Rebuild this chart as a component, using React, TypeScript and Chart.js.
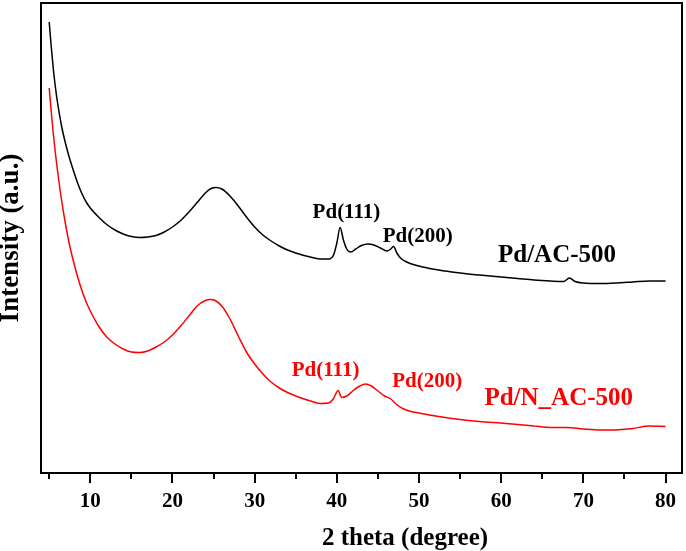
import React, { useEffect, useRef } from 'react';
import { Chart, registerables } from 'chart.js';

Chart.register(...registerables);

const FONT = '"Liberation Serif", "Times New Roman", Times, serif';

// Pd/AC-500 (black)
const twoThetaAC = [
  5, 5.25, 5.5, 5.75, 6.0, 6.5, 7.0, 7.5, 8.0, 8.5, 9.0, 9.5, 10, 11, 12, 13, 14, 15, 16, 17,
  18, 19, 20, 21, 22, 23, 24, 24.7, 25.3, 26, 27, 28, 29, 30, 31, 32, 33, 34, 35, 36, 37,
  38, 39, 39.6, 40.0, 40.4, 40.8, 41.2, 41.7, 42.3, 43, 43.8, 44.5, 45.3, 46.1, 46.5, 46.9, 47.3, 47.8, 48.5, 49.5,
  50.5, 52, 54, 56, 58, 60, 62, 64, 66, 67.6, 68.3, 69, 70, 72, 74, 76, 78, 80,
];
const intensityAC = [
  451, 426, 404, 386, 371, 347, 329, 314, 301, 289, 279, 271, 265, 256, 248.5, 243, 239, 236.5, 235.5, 236,
  237.5, 241, 246, 252.5, 261, 270.5, 280, 284.5, 285.5, 284, 277, 267, 256, 246, 238, 232, 227, 223, 220, 217.5, 215.5,
  214, 214, 218, 230, 245.5, 233, 224, 221, 224, 227.5, 229, 228, 225, 222, 223.5, 226.5, 220, 214.5, 211, 208,
  206, 203.5, 201, 199, 197.5, 196, 194.5, 193, 192, 191.5, 195, 191.5, 190, 189.5, 190, 191, 192, 192,
];

// Pd/N_AC-500 (red)
const twoThetaNAC = [
  5, 5.25, 5.5, 5.75, 6.0, 6.5, 7.0, 7.5, 8.0, 8.5, 9, 9.5, 10, 11, 12, 13, 14, 15, 16, 17, 18,
  19, 20, 21, 22, 23, 24, 24.6, 25.2, 26, 27, 28, 29, 30, 31, 32, 33, 34, 35, 36, 37,
  38, 39, 39.6, 40.15, 40.6, 41.2, 42, 42.8, 43.5, 44.2, 45, 45.8, 46.5, 47.2, 48, 49, 50, 52, 54, 56,
  58, 60, 62, 64, 66, 68, 70, 72, 74, 76, 78, 80,
];
const intensityNAC = [
  385, 361, 339, 320, 303, 273, 248, 227, 210, 195, 182, 171, 162, 147, 136, 129, 124, 121, 120.5, 122, 126,
  131, 138, 147, 157, 167, 172.5, 173.5, 172.5, 167, 154, 137, 121, 109, 99, 91, 85, 80.5, 77, 74, 71.5,
  69.5, 70, 74.5, 82.5, 75.5, 77, 82.5, 87, 89, 87, 82, 77, 74.5, 69, 64.5, 61.5, 60, 57, 54.5, 52.5,
  51, 50, 48.5, 47, 45.5, 45.5, 44, 43, 43, 44.5, 47, 46.5,
];

const xTickValues = [5, 10, 15, 20, 25, 30, 35, 40, 45, 50, 55, 60, 65, 70, 75, 80];
const xLabelValues = [10, 20, 30, 40, 50, 60, 70, 80];

// annotation texts and their anchors (2θ, intensity)
const noteTexts = ['Pd(111)', 'Pd(200)', 'Pd/AC-500', 'Pd(111)', 'Pd(200)', 'Pd/N_AC-500'];
const noteTwoTheta = [41.17, 49.83, 66.79, 38.63, 51.0, 67.0];
const noteIntensity = [260, 236.5, 217.5, 102.2, 91.3, 74.3];
const noteSeries = [0, 0, 0, 1, 1, 1];
const noteIsSample = [false, false, true, false, false, true];

const seriesColors = ['#000000', '#ff0000'];

const W = 686;
const H = 551;

const decorPlugin = {
  id: 'decor',
  afterDatasetsDraw(chart: any) {
    const { ctx, chartArea, scales } = chart;
    const xs = scales.x;
    const ys = scales.y;
    ctx.save();
    ctx.strokeStyle = '#000';
    ctx.lineWidth = 2;
    ctx.strokeRect(chartArea.left, chartArea.top, chartArea.right - chartArea.left, chartArea.bottom - chartArea.top);
    ctx.beginPath();
    xTickValues.forEach((v) => {
      const px = Math.round(xs.getPixelForValue(v));
      const len = v % 10 === 0 ? 10 : 6;
      ctx.moveTo(px, chartArea.bottom);
      ctx.lineTo(px, chartArea.bottom + len);
    });
    ctx.stroke();
    ctx.textAlign = 'center';
    ctx.textBaseline = 'middle';
    noteTexts.forEach((t, i) => {
      ctx.fillStyle = seriesColors[noteSeries[i]];
      ctx.font = `bold ${noteIsSample[i] ? 25 : 21}px ${FONT}`;
      ctx.fillText(t, xs.getPixelForValue(noteTwoTheta[i]), ys.getPixelForValue(noteIntensity[i]));
    });
    ctx.fillStyle = '#000';
    ctx.font = `bold 25px ${FONT}`;
    ctx.textBaseline = 'alphabetic';
    ctx.fillText('2 theta (degree)', 405, 545);
    ctx.restore();
  },
};

export default function App() {
  const canvasRef = useRef<HTMLCanvasElement | null>(null);

  useEffect(() => {
    if (!canvasRef.current) return;
    const chart = new Chart(canvasRef.current, {
      type: 'line',
      data: {
        datasets: [
          {
            label: 'Pd/AC-500',
            data: twoThetaAC.map((x, i) => ({ x, y: intensityAC[i] })),
            borderColor: seriesColors[0],
            borderWidth: 1.5,
            pointRadius: 0,
            cubicInterpolationMode: 'monotone',
          },
          {
            label: 'Pd/N_AC-500',
            data: twoThetaNAC.map((x, i) => ({ x, y: intensityNAC[i] })),
            borderColor: seriesColors[1],
            borderWidth: 1.5,
            pointRadius: 0,
            cubicInterpolationMode: 'monotone',
          },
        ],
      },
      options: {
        animation: false,
        responsive: false,
        devicePixelRatio: 1,
        layout: { padding: { top: 3, right: 4, left: 0, bottom: 0 } },
        plugins: {
          legend: { display: false },
          tooltip: { enabled: false },
        },
        scales: {
          x: {
            type: 'linear',
            min: 4,
            max: 82,
            afterBuildTicks: (scale: any) => {
              scale.ticks = xLabelValues.map((v) => ({ value: v }));
            },
            afterFit: (scale: any) => {
              scale.height = 78;
              scale.paddingLeft = 0;
              scale.paddingRight = 0;
            },
            grid: { display: false, drawTicks: false },
            border: { display: false },
            ticks: {
              color: '#000',
              padding: 16,
              maxRotation: 0,
              font: { family: FONT, size: 21, weight: 'bold' },
            },
          },
          y: {
            type: 'linear',
            min: 0,
            max: 470,
            afterFit: (scale: any) => {
              scale.width = 41;
              scale.paddingTop = 0;
              scale.paddingBottom = 0;
            },
            grid: { display: false, drawTicks: false },
            border: { display: false },
            ticks: { display: false },
            title: {
              display: true,
              text: 'Intensity (a.u.)',
              color: '#000',
              padding: 0,
              font: { family: FONT, size: 27, weight: 'bold', lineHeight: 0.8 },
            },
          },
        },
      } as any,
      plugins: [decorPlugin],
    });
    return () => chart.destroy();
  }, []);

  return (
    <div style={{ position: 'fixed', left: 0, top: 0, width: W, height: H, background: '#fff' }}>
      <canvas ref={canvasRef} width={W} height={H} style={{ width: W, height: H, display: 'block' }} />
    </div>
  );
}
